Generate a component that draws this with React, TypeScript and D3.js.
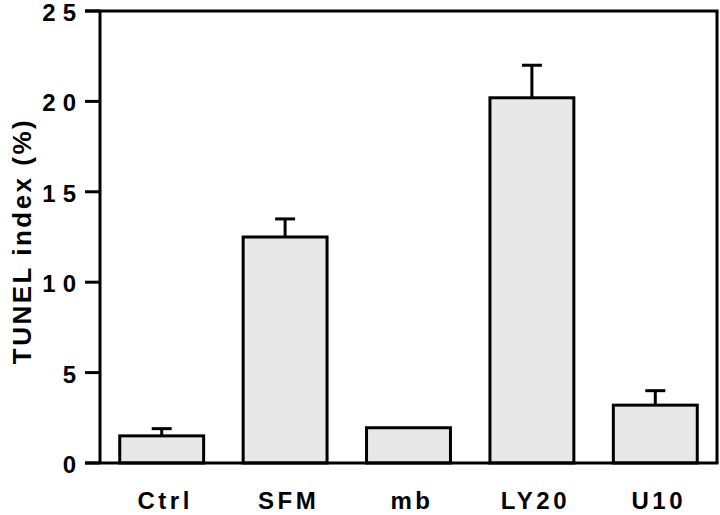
import React from "react";
import * as d3 from "d3";

const categories = ["Ctrl", "SFM", "mb", "LY20", "U10"];
const values = [1.5, 12.5, 1.95, 20.2, 3.2];
const errors = [0.4, 1.0, 0, 1.8, 0.8];
const yTicks = [0, 5, 10, 15, 20, 25];
const yLabel = "TUNEL index (%)";

export default function App() {
  const W = 720, H = 515;
  const left = 100, right = 717, top = 11, bottom = 463;
  const x = d3.scaleBand<string>().domain(categories).range([left, right]).paddingInner(0.32).paddingOuter(0.16);
  const y = d3.scaleLinear().domain([0, 25]).range([bottom, top]);
  const font = "'Liberation Sans', Arial, Helvetica, sans-serif";
  const sw = 3;
  return (
    <svg width={W} height={H} style={{ position: "absolute", left: 0, top: 0, background: "#fff" }} fontFamily={font}>
      {categories.map((c, i) => {
        const bx = x(c)!;
        const bw = x.bandwidth();
        const cx = bx + bw / 2;
        return (
          <g key={c}>
            {errors[i] > 0 && (
              <g stroke="#000" strokeWidth={sw}>
                <line x1={cx} x2={cx} y1={y(values[i])} y2={y(values[i] + errors[i])} />
                <line x1={cx - 10} x2={cx + 10} y1={y(values[i] + errors[i])} y2={y(values[i] + errors[i])} />
              </g>
            )}
            <rect x={bx} y={y(values[i])} width={bw} height={bottom - y(values[i])} fill="#e8e8e8" stroke="#000" strokeWidth={sw} />
            <text x={cx + 3.5} y={509} textAnchor="middle" fontSize={24} fontWeight="bold" letterSpacing={3.5}>{c}</text>
          </g>
        );
      })}
      <g stroke="#000" strokeWidth={sw} fill="none">
        <line x1={left} x2={left} y1={top} y2={bottom} />
        <line x1={right} x2={right} y1={top} y2={bottom} />
        <line x1={left - 15} x2={right + 1.5} y1={top} y2={top} />
        <line x1={left - 15} x2={right + 1.5} y1={bottom} y2={bottom} />
        {yTicks.map(t => (
          <line key={t} x1={left - 15} x2={left} y1={y(t)} y2={y(t)} />
        ))}
      </g>
      {yTicks.map(t => (
        <text key={t} x={83} y={y(t) + 10} textAnchor="end" fontSize={24} fontWeight="bold" letterSpacing={7}>{t}</text>
      ))}
      <text transform={`translate(31,${241}) rotate(-90)`} textAnchor="middle" fontSize={26} fontWeight="bold" letterSpacing={2.5}>{yLabel}</text>
    </svg>
  );
}
